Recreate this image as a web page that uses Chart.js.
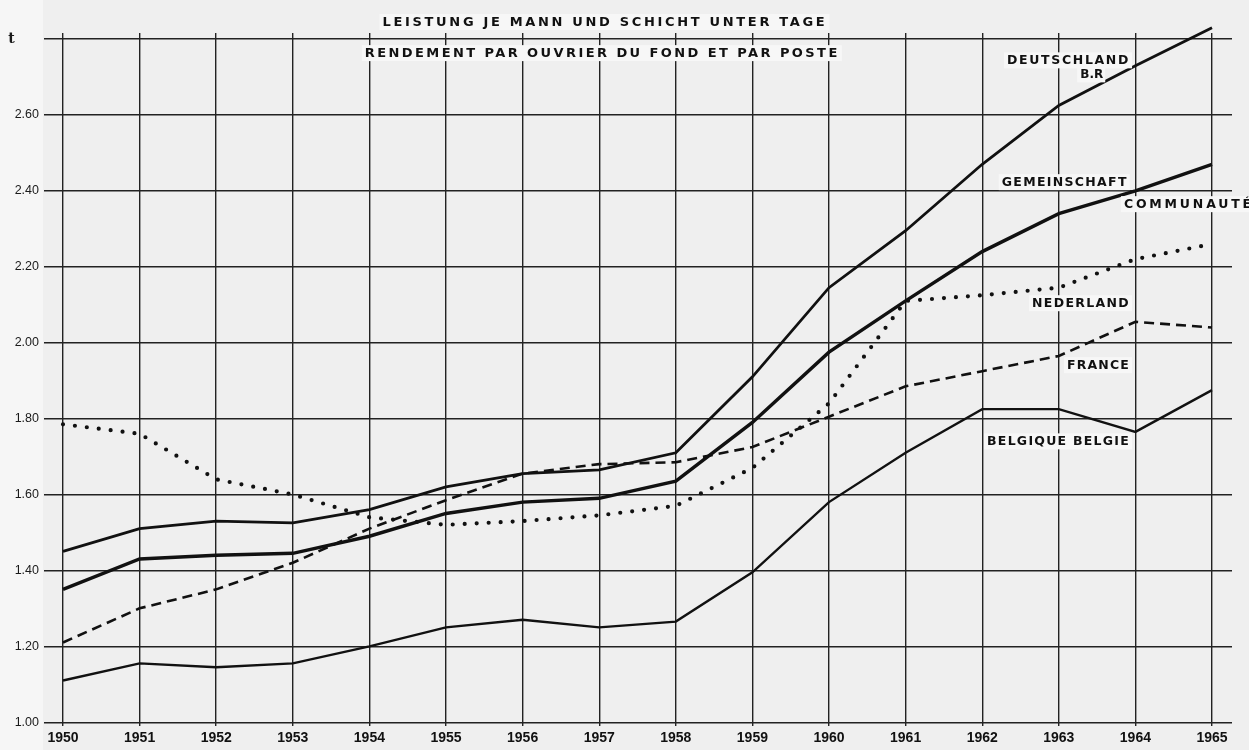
<!DOCTYPE html>
<html><head><meta charset="utf-8">
<script src="https://cdn.jsdelivr.net/npm/chart.js@4.4.1/dist/chart.umd.min.js"></script>
<style>html,body{margin:0;padding:0;background:#f0f0f0;}#wrap{width:1249px;height:750px;}</style>
</head><body><div id="wrap"><canvas id="c" width="1249" height="750"></canvas></div>
<script>
const years = [1950,1951,1952,1953,1954,1955,1956,1957,1958,1959,1960,1961,1962,1963,1964,1965];
const deutschland  = [1.45,1.51,1.53,1.525,1.56,1.62,1.655,1.665,1.71,1.91,2.145,2.295,2.47,2.625,2.73,2.83];
const gemeinschaft = [1.35,1.43,1.44,1.445,1.49,1.55,1.58,1.59,1.635,1.79,1.975,2.11,2.24,2.34,2.40,2.47];
const nederland    = [1.785,1.76,1.64,1.60,1.54,1.52,1.53,1.545,1.57,1.67,1.84,2.11,2.125,2.145,2.22,2.26];
const france       = [1.21,1.30,1.35,1.42,1.51,1.585,1.655,1.68,1.685,1.725,1.805,1.885,1.925,1.965,2.055,2.04];
const belgique     = [1.11,1.155,1.145,1.155,1.20,1.25,1.27,1.25,1.265,1.395,1.58,1.71,1.825,1.825,1.765,1.875];
const yTicks       = [1.0,1.2,1.4,1.6,1.8,2.0,2.2,2.4,2.6,2.8];
const yTickLabels  = ['1.00','1.20','1.40','1.60','1.80','2.00','2.20','2.40','2.60','t     '];
const titleLines   = ['LEISTUNG JE MANN UND SCHICHT UNTER TAGE','RENDEMENT PAR OUVRIER DU FOND ET PAR POSTE'];
const seriesNames  = ['DEUTSCHLAND','B.R','GEMEINSCHAFT','COMMUNAUTÉ','NEDERLAND','FRANCE','BELGIQUE BELGIE'];

// text annotations: anchor in data coordinates, fitted width in px
const notes = [
  {text:titleLines[0], x:1957.076, y:2.845, w:445, align:'center', size:13},
  {text:titleLines[1], x:1957.04,  y:2.763, w:475, align:'center', size:13},
  {text:seriesNames[0], x:1963.93, y:2.744, w:123, align:'right', size:12.5},
  {text:seriesNames[1], x:1963.58, y:2.707, w:23,  align:'right', size:12},
  {text:seriesNames[2], x:1963.90, y:2.423, w:126, align:'right', size:12.5},
  {text:seriesNames[3], x:1963.85, y:2.365, w:130, align:'left',  size:12.5},
  {text:seriesNames[4], x:1963.93, y:2.104, w:98,  align:'right', size:12.5},
  {text:seriesNames[5], x:1963.93, y:1.941, w:63,  align:'right', size:12.5},
  {text:seriesNames[6], x:1963.93, y:1.740, w:143, align:'right', size:12.5}
];

const mk = arr => years.map((yr,i)=>({x:yr, y:arr[i]}));
const ink = '#111';

const bgPlugin = {
  id:'bg',
  beforeDraw(chart){
    const c = chart.ctx;
    c.save();
    c.fillStyle = '#efefef';
    c.fillRect(0,0,chart.width,chart.height);
    c.fillStyle = '#f6f6f6';
    c.fillRect(0,0,43,chart.height);
    c.restore();
  }
};

const textPlugin = {
  id:'notes',
  afterDatasetsDraw(chart){
    const c = chart.ctx, xs = chart.scales.x, ys = chart.scales.y;
    c.save();
    notes.forEach(n=>{
      let size = n.size;
      c.letterSpacing = '0px';
      c.font = '600 ' + size + 'px "DejaVu Sans"';
      let base = c.measureText(n.text).width;
      while (base > n.w && size > 8) { size -= 0.5; c.font = '600 ' + size + 'px "DejaVu Sans"'; base = c.measureText(n.text).width; }
      const ls = Math.max(0,(n.w - base)/n.text.length);
      c.letterSpacing = ls.toFixed(2) + 'px';
      const px = xs.getPixelForValue(n.x), py = ys.getPixelForValue(n.y);
      let left = n.align==='center' ? px - n.w/2 : (n.align==='right' ? px - n.w : px);
      c.fillStyle = '#f7f7f7';
      c.fillRect(left-3, py-8, n.w+5, 16);
      c.fillStyle = ink;
      c.textAlign = 'left';
      c.textBaseline = 'middle';
      c.fillText(n.text, left, py+0.5);
    });
    c.restore();
  }
};

new Chart(document.getElementById('c'), {
  type:'line',
  data:{datasets:[
    {label:'DEUTSCHLAND B.R', data:mk(deutschland), borderColor:ink, borderWidth:2.8, pointRadius:0, tension:0, clip:false},
    {label:'GEMEINSCHAFT', data:mk(gemeinschaft), borderColor:ink, borderWidth:3.4, pointRadius:0, tension:0, clip:false},
    {label:'NEDERLAND', data:mk(nederland), borderColor:ink, borderWidth:4.2, borderDash:[0,12], borderCapStyle:'round', pointRadius:0, tension:0, clip:false},
    {label:'FRANCE', data:mk(france), borderColor:ink, borderWidth:2.6, borderDash:[10,6], pointRadius:0, tension:0, clip:false},
    {label:'BELGIQUE BELGIE', data:mk(belgique), borderColor:ink, borderWidth:2.4, pointRadius:0, tension:0, clip:false}
  ]},
  options:{
    responsive:false, animation:false, devicePixelRatio:1,
    layout:{padding:{top:33,right:17,left:0,bottom:0}},
    plugins:{legend:{display:false}, tooltip:{enabled:false}, title:{display:false}},
    scales:{
      x:{
        type:'linear', min:1949.752, max:1965.261,
        afterBuildTicks: s => { s.ticks = years.map(v=>({value:v})); },
        afterFit: s => { s.height = 24; },
        grid:{color:'#222', lineWidth:1.4, drawTicks:false},
        border:{display:false},
        ticks:{padding:4, autoSkip:false, maxRotation:0, color:ink,
               font:{family:'"Liberation Sans", Arial, sans-serif', size:14, weight:'bold'},
               callback:v=>String(v)}
      },
      y:{
        min:0.99, max:2.816,
        afterBuildTicks: s => { s.ticks = yTicks.map(v=>({value:v})); },
        afterFit: s => { s.width = 44; },
        grid:{color:'#222', lineWidth:1.4, drawTicks:false},
        border:{display:false},
        ticks:{padding:5, autoSkip:false, color:'#1a1a1a',
               font: c => (c.index===yTicks.length-1) ? {family:'"DejaVu Serif", serif', size:14, weight:'bold'} : {family:'"Liberation Sans", Arial, sans-serif', size:12.5},
               callback:(v,i)=>yTickLabels[i]}
      }
    }
  },
  plugins:[bgPlugin, textPlugin]
});
</script></body></html>
